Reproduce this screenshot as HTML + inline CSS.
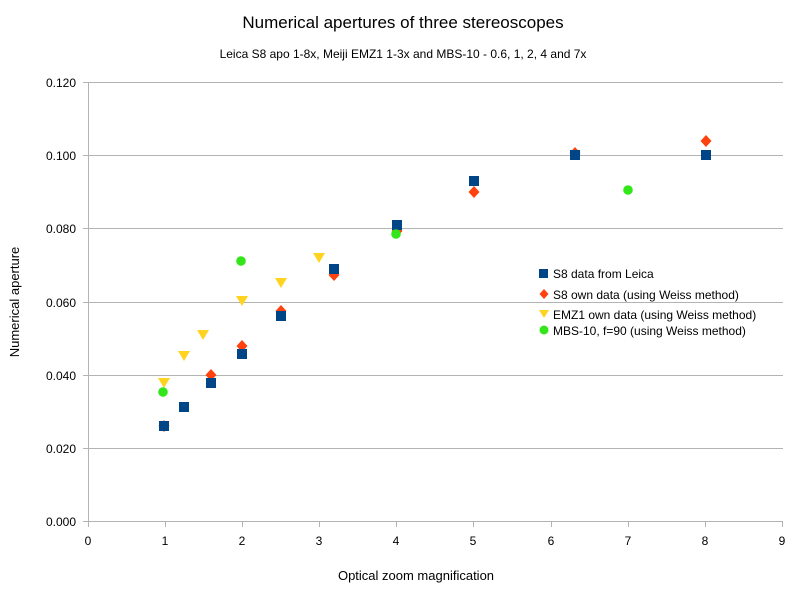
<!DOCTYPE html>
<html><head><meta charset="utf-8"><style>
body{margin:0;background:#fff}
svg{display:block;font-family:"Liberation Sans",Arial,sans-serif}
</style></head><body>
<svg width="806" height="593" viewBox="0 0 806 593">
<defs>
<rect id="sq" x="-5" y="-5" width="10" height="10" fill="#004586"/>
<polygon id="di" points="0,-6 5.5,0 0,6 -5.5,0" fill="#ff420e"/>
<polygon id="tr" points="-6,-5 6,-5 0,5" fill="#ffd320"/>
<circle id="ci" r="4.8" fill="#33e61a"/>
</defs>
<text x="403" y="28" font-size="17" text-anchor="middle">Numerical apertures of three stereoscopes</text>
<text x="403" y="58" font-size="12" text-anchor="middle">Leica S8 apo 1-8x, Meiji EMZ1 1-3x and MBS-10 - 0.6, 1, 2, 4 and 7x</text>
<g stroke="#b3b3b3" stroke-width="1">
<line x1="88" y1="82.5" x2="783" y2="82.5"/>
<line x1="88" y1="155.5" x2="783" y2="155.5"/>
<line x1="88" y1="228.5" x2="783" y2="228.5"/>
<line x1="88" y1="302.5" x2="783" y2="302.5"/>
<line x1="88" y1="375.5" x2="783" y2="375.5"/>
<line x1="88" y1="448.5" x2="783" y2="448.5"/>
<line x1="88" y1="521.5" x2="783" y2="521.5"/>
<line x1="88.5" y1="82" x2="88.5" y2="521"/>
</g>
<g stroke="#b3b3b3">
<line x1="83" y1="82.5" x2="88" y2="82.5"/><line x1="83" y1="155.5" x2="88" y2="155.5"/><line x1="83" y1="228.5" x2="88" y2="228.5"/><line x1="83" y1="302.5" x2="88" y2="302.5"/><line x1="83" y1="375.5" x2="88" y2="375.5"/><line x1="83" y1="448.5" x2="88" y2="448.5"/><line x1="83" y1="521.5" x2="88" y2="521.5"/>
<line x1="88.5" y1="521" x2="88.5" y2="527"/><line x1="165.5" y1="521" x2="165.5" y2="527"/><line x1="242.5" y1="521" x2="242.5" y2="527"/><line x1="319.5" y1="521" x2="319.5" y2="527"/><line x1="396.5" y1="521" x2="396.5" y2="527"/><line x1="473.5" y1="521" x2="473.5" y2="527"/><line x1="551.5" y1="521" x2="551.5" y2="527"/><line x1="628.5" y1="521" x2="628.5" y2="527"/><line x1="705.5" y1="521" x2="705.5" y2="527"/><line x1="782.5" y1="521" x2="782.5" y2="527"/>
</g>
<g font-size="12" text-anchor="end">
<text x="76" y="87">0.120</text><text x="76" y="160">0.100</text><text x="76" y="233">0.080</text><text x="76" y="307">0.060</text><text x="76" y="380">0.040</text><text x="76" y="453">0.020</text><text x="76" y="526">0.000</text>
</g>
<g font-size="12" text-anchor="middle">
<text x="88" y="545">0</text><text x="165" y="545">1</text><text x="242" y="545">2</text><text x="319" y="545">3</text><text x="396" y="545">4</text><text x="473" y="545">5</text><text x="551" y="545">6</text><text x="628" y="545">7</text><text x="705" y="545">8</text><text x="782" y="545">9</text>
</g>
<text x="416" y="580" font-size="13" text-anchor="middle">Optical zoom magnification</text>
<text transform="translate(19,302) rotate(-90)" font-size="13" text-anchor="middle">Numerical aperture</text>
<use href="#di" x="164" y="426"/><use href="#di" x="211" y="375"/><use href="#di" x="242" y="346"/><use href="#di" x="281" y="311"/><use href="#di" x="334" y="275"/><use href="#di" x="397" y="231"/><use href="#di" x="474" y="192"/><use href="#di" x="575" y="153"/><use href="#di" x="706" y="141"/>
<use href="#sq" x="164" y="426"/><use href="#sq" x="184" y="407"/><use href="#sq" x="211" y="383"/><use href="#sq" x="242" y="354"/><use href="#sq" x="281" y="316"/><use href="#sq" x="334" y="269"/><use href="#sq" x="397" y="225"/><use href="#sq" x="474" y="181"/><use href="#sq" x="575" y="155"/><use href="#sq" x="706" y="155"/>
<use href="#tr" x="164" y="383"/><use href="#tr" x="184" y="356"/><use href="#tr" x="203" y="335"/><use href="#tr" x="242" y="301"/><use href="#tr" x="281" y="283"/><use href="#tr" x="319" y="258"/>
<use href="#ci" x="163" y="392"/><use href="#ci" x="241" y="261"/><use href="#ci" x="396" y="234"/><use href="#ci" x="628" y="190"/>
<rect x="539" y="269" width="9" height="9" fill="#004586"/>
<polygon points="544,289 548.5,294 544,299 539.5,294" fill="#ff420e"/>
<polygon points="539,310 549,310 544,318" fill="#ffd320"/>
<circle cx="544" cy="330" r="4.5" fill="#33e61a"/>
<g font-size="12">
<text x="553" y="278">S8 data from Leica</text>
<text x="553" y="299">S8 own data (using Weiss method)</text>
<text x="553" y="319">EMZ1 own data (using Weiss method)</text>
<text x="553" y="335">MBS-10, f=90 (using Weiss method)</text>
</g>
</svg>
</body></html>
